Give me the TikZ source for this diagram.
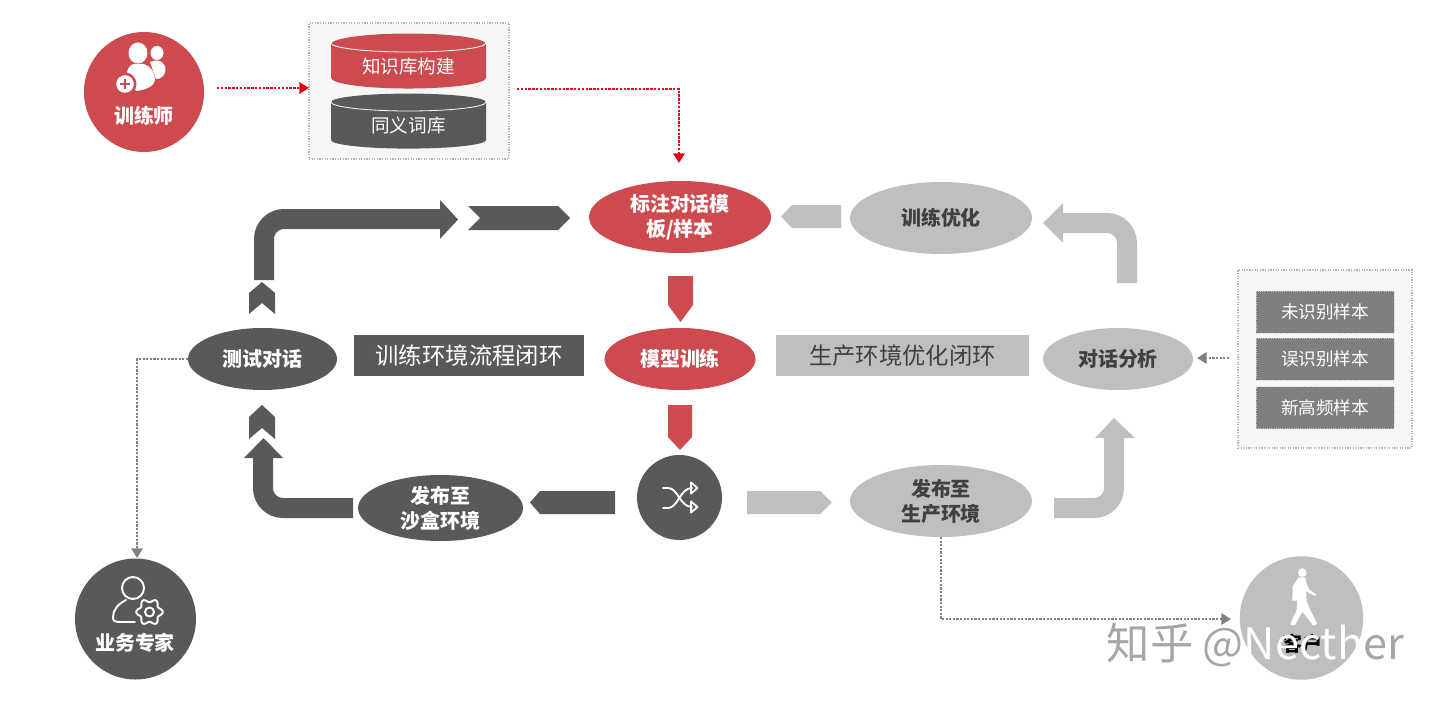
\documentclass[tikz,border=0pt]{standalone}
\usepackage{fontspec}
\usepackage{tikz}
\usetikzlibrary{arrows.meta,positioning,calc,shapes.geometric,shapes.symbols}
\setmainfont{Noto Sans CJK SC}

\definecolor{redfill}{HTML}{CD4B4F}
\definecolor{darkfill}{HTML}{595959}
\definecolor{greyfill}{HTML}{BFBFBF}
\definecolor{panelfill}{HTML}{F7F7F7}
\definecolor{boxfill}{HTML}{7F7F7F}
\definecolor{redline}{HTML}{E30613}
\definecolor{dotline}{HTML}{808080}
\definecolor{greytext}{HTML}{404040}
\definecolor{markgrey}{HTML}{A6A6A6}

\def\px{0.25mm}

\tikzset{
    stage/.style={ellipse, inner sep=0pt, outer sep=0pt, align=center, font=\fontsize{14.2}{17.8}\selectfont\bfseries},
    redstage/.style={stage, fill=redfill, text=white},
    darkstage/.style={stage, fill=darkfill, text=white},
    greystage/.style={stage, fill=greyfill, text=greytext},
    role/.style={circle, inner sep=0pt, outer sep=0pt},
    rolelabel/.style={font=\fontsize{14.2}{17}\selectfont\bfseries, text=white},
    loopbox/.style={inner sep=0pt, outer sep=0pt, font=\fontsize{16.6}{20}\selectfont},
    panel/.style={fill=panelfill, draw=dotline!60, densely dotted, line width=0.3mm, inner sep=0pt, outer sep=0pt},
    samplebox/.style={fill=boxfill, draw=white!80!black, densely dotted, line width=0.2mm, inner sep=0pt, outer sep=0pt, text=white, minimum width=138*\px, minimum height=42*\px, font=\fontsize{12.5}{15}\selectfont},
    store/.style={cylinder, shape border rotate=90, aspect=0.23, inner sep=0pt, outer sep=0pt, minimum width=155*\px, minimum height=55*\px, text=white, font=\fontsize{13.2}{16}\selectfont},
    redflow/.style={densely dotted, line width=0.6mm, redline, -{Triangle[length=2.4mm,width=2.8mm]}},
    greyflow/.style={densely dotted, line width=0.55mm, dotline, -{Triangle[length=2.4mm,width=2.8mm]}},
    bent/.style={line width=5mm, rounded corners=5mm},
    icon/.style={white, line width=0.48mm, line cap=round, line join=round}
}

\begin{document}
\begin{tikzpicture}[x=\px, y=-\px]
    \useasboundingbox (0,0) rectangle (1440,701);

    % Panels
    \node[panel, minimum width=200*\px, minimum height=136*\px] (kbpanel) at (409,91) {};
    \node[panel, minimum width=174*\px, minimum height=178*\px] (samplepanel) at (1325,359) {};

    % Stores
    \node[store, fill=redfill] (kb) at (408.5,66.5) {知识库构建};
    \node[store, fill=darkfill] (synonym) at (408.5,125.5) {同义词库};
    \draw[white, line width=0.2mm] (331,43) arc[start angle=180, end angle=0, x radius=77.5, y radius=9];
    \draw[white, line width=0.2mm] (331,102) arc[start angle=180, end angle=0, x radius=77.5, y radius=9];

    % Samples
    \node[samplebox] (unknown) at (1325,312) {未识别样本};
    \node[samplebox] (wrong) at (1325,359) {误识别样本};
    \node[samplebox] (frequent) at (1325,407.5) {新高频样本};

    % Roles
    \node[role, fill=redfill, minimum size=120*\px] (trainer) at (144,92) {};
    \node[rolelabel] (trainerlabel) at (144,115.5) {训练师};
    \node[role, fill=darkfill, minimum size=121*\px] (expert) at (135.5,619) {};
    \node[rolelabel] (expertlabel) at (135,642.5) {业务专家};
    \node[role, fill=greyfill, minimum size=123.5*\px] (customer) at (1301.5,618) {};
    \node[rolelabel, text=black] (customerlabel) at (1302,644) {客户};

    % Stages
    \node[redstage, minimum width=182*\px, minimum height=72*\px] (annotate) at (680,217) {标注对话模\\板/样本};
    \node[greystage, minimum width=182*\px, minimum height=72*\px] (optimize) at (941,218) {训练优化};
    \node[redstage, minimum width=151*\px, minimum height=62*\px] (train) at (680,359) {模型训练};
    \node[darkstage, minimum width=149*\px, minimum height=62*\px] (test) at (262.5,359) {测试对话};
    \node[greystage, minimum width=150*\px, minimum height=62*\px] (analyse) at (1118,359) {对话分析};
    \node[darkstage, minimum width=165*\px, minimum height=66*\px] (sandbox) at (440.5,508) {发布至\\沙盒环境};
    \node[greystage, minimum width=182*\px, minimum height=72*\px] (production) at (941,501) {发布至\\生产环境};
    \node[role, fill=darkfill, minimum size=85*\px] (shuffle) at (679.5,497.5) {};

    % Loop labels
    \node[loopbox, fill=darkfill, text=white, minimum width=230*\px, minimum height=41*\px] (trainloop) at (469,355.5) {训练环境流程闭环};
    \node[loopbox, fill=greyfill, text=greytext, minimum width=253*\px, minimum height=41*\px] (prodloop) at (902.5,355.5) {生产环境优化闭环};

    % Training loop
    \draw[darkfill, bent] (264,280) |- (441,219);
    \fill[darkfill] (440,200) -- (458,219.5) -- (440,239) -- cycle;
    \fill[darkfill] (468,206) -- (558,206) -- (570,218) -- (558,230) -- (468,230) -- (480,218) -- cycle;
    \fill[darkfill] (249,293) -- (262,282) -- (275,293) -- (275,314) -- (262,303) -- (249,314) -- cycle;
    \fill[darkfill] (249,417) -- (262,405) -- (275,417) -- (275,439) -- (262,428) -- (249,439) -- cycle;
    \draw[darkfill, bent] (353,508) -| (263,457);
    \fill[darkfill] (244,458) -- (263.5,438) -- (283,458) -- cycle;
    \fill[darkfill] (615,491) -- (540,491) -- (530,502.5) -- (540,514) -- (615,514) -- cycle;

    % Production loop
    \fill[greyfill] (747,491) -- (820,491) -- (832,502.5) -- (820,514) -- (747,514) -- cycle;
    \draw[greyfill, bent] (1054,508) -| (1114,437);
    \fill[greyfill] (1095,438) -- (1114,418) -- (1135,438) -- cycle;
    \draw[greyfill, bent] (1127,283) |- (1062,223);
    \fill[greyfill] (1063,203) -- (1043,223) -- (1063,243) -- cycle;
    \fill[greyfill] (841,205) -- (792,205) -- (781,216.5) -- (792,228) -- (841,228) -- cycle;

    % Model path
    \fill[redfill] (668,276) -- (693,276) -- (693,305) -- (680.5,322) -- (668,305) -- cycle;
    \fill[redfill] (668,405) -- (692,405) -- (692,437) -- (680,450) -- (668,437) -- cycle;

    % Dotted flows
    \coordinate (trainerout) at (217,88);
    \coordinate (kbout) at (517,89);
    \coordinate (annotatein) at (679,163);
    \coordinate (sampleout) at (1229,358);
    \coordinate (analysein) at (1197,358);
    \coordinate (customerin) at (1231,619);
    \coordinate (expertin) at (137,558);
    \draw[redflow] (trainerout) -- (trainerout -| kbpanel.west);
    \draw[redflow] (kbout) -| (annotatein);
    \draw[greyflow] (sampleout) -- (analysein);
    \draw[greyflow] (test.west) -| (expertin);
    \draw[greyflow] (production.south) |- (customerin);

    % Trainer icon
    \fill[white] (157,53) ellipse[x radius=6.5, y radius=7];
    \fill[white] (150,62) .. controls (156,59) and (162,60) .. (165,66) .. controls (167,73) and (163,79) .. (156,79) -- cycle;
    \fill[redfill] (138,53) ellipse[x radius=11.5, y radius=12.5];
    \fill[white] (138,53) ellipse[x radius=9.5, y radius=10.5];
    \fill[white] (134,64) -- (144,64) .. controls (151,66) and (155,73) .. (155,80) .. controls (155,85) and (147,90) .. (136,91) -- (127,72) .. controls (128,68) and (130,65) .. (134,64) -- cycle;
    \fill[redfill] (125,84) circle[radius=11.5];
    \fill[white] (125,84) circle[radius=8.8];
    \draw[redfill, line width=0.6mm] (125,79) -- (125,89) (120,84) -- (130,84);

    % Expert icon
    \draw[icon] (133,588) circle[radius=11];
    \draw[icon] (126,600) .. controls (118,604) and (113,610) .. (113,617) .. controls (113,621) and (115,622) .. (118,622) -- (135,622);
    \draw[icon, domain=0:360, samples=73, smooth] plot ({149.5+(11.5+1.8*cos(6*\x))*cos(\x)}, {612+(11.5+1.8*cos(6*\x))*sin(\x)});
    \draw[icon] (149.5,612) circle[radius=4.5];

    % Shuffle icon
    \draw[icon] (663,488) -- (668,488) .. controls (678,488) and (680,507) .. (692,507);
    \draw[icon] (663,508) -- (668,508) .. controls (678,508) and (680,488) .. (692,488);
    \draw[icon] (691,482.5) -- (697.5,488) -- (691,493.5) -- cycle;
    \draw[icon] (691,501.5) -- (697.5,507) -- (691,512.5) -- cycle;

    % Walking figure
    \begin{scope}[shift={(1260,560)}, scale=0.3333]
        \fill[white] (127,38) circle[radius=13];
        \fill[white] (116,52) -- (135,52) -- (141,75) -- (149,90) -- (168,103) -- (165,108) -- (143,97) -- (138,92) -- (140,125) -- (151,150) -- (172,192) -- (160,197) -- (127,155) -- (105,195) -- (92,195) -- (92,189) -- (110,150) -- (112,122) -- (105,122) -- (97,122) -- (98,80) -- cycle;
    \end{scope}

    % Watermark
    \node[font=\fontsize{30.8}{36}\selectfont, text=markgrey, inner sep=0pt] (mark) at (1255.5,645) {知乎 @\textcolor{white}{Necth}er};
\end{tikzpicture}
\end{document}
